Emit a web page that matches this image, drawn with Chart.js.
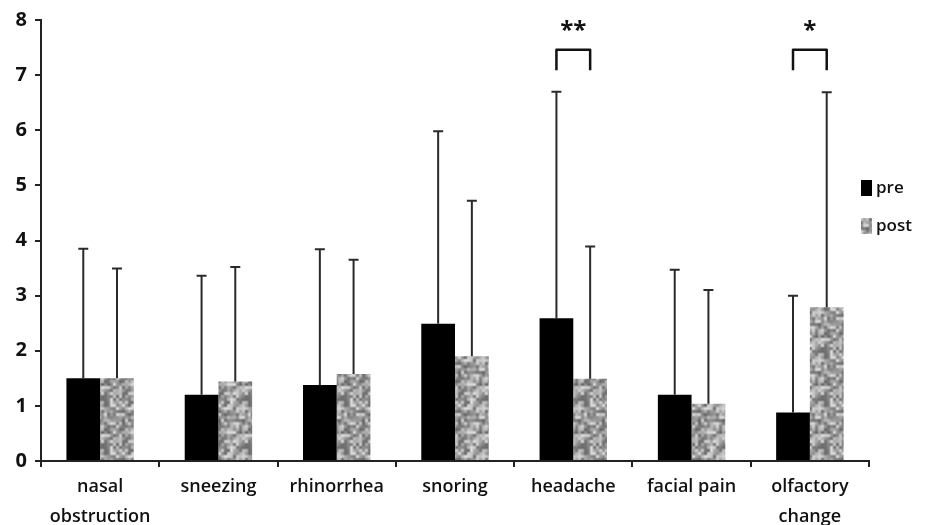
<!DOCTYPE html>
<html lang="en">
<head>
<meta charset="UTF-8">
<title>Symptom scores pre / post</title>
<script src="https://cdn.jsdelivr.net/npm/chart.js"></script>
<style>
  html, body { margin: 0; padding: 0; background: #fff; }
  #chart { display: block; }
</style>
</head>
<body>
<canvas id="chart" width="933" height="525"></canvas>
<script>
// categories (multi-line labels as arrays)
const categories = [['nasal', 'obstruction'], 'sneezing', 'rhinorrhea', 'snoring', 'headache', 'facial pain', ['olfactory', 'change']];

// mean scores
const preMean  = [1.50, 1.20, 1.38, 2.49, 2.59, 1.20, 0.88];
const postMean = [1.50, 1.44, 1.58, 1.90, 1.49, 1.04, 2.79];

// standard deviations (upper whisker only)
const preSD  = [2.35, 2.16, 2.46, 3.49, 4.11, 2.27, 2.12];
const postSD = [1.99, 2.08, 2.07, 2.82, 2.40, 2.06, 3.90];

const yTicks = [0, 1, 2, 3, 4, 5, 6, 7, 8];

// significance marks: category index -> stars
const sigIndex = [4, 6];
const sigLabel = ['**', '*'];

const FONT = '"Open Sans", "DejaVu Sans", sans-serif';

// grey mottled fill for "post" bars (fixed hash, smoothed -> blotchy texture)
function makePattern() {
  const n = 48, cell = 3, m = n / cell;
  const hash = (i, j) => {
    let h = ((i % m) * 374761393 + (j % m) * 668265263) | 0;
    h = (h ^ (h >>> 13)) * 1274126177;
    return ((h ^ (h >>> 16)) >>> 0) / 4294967295;
  };
  const smooth = t => t * t * (3 - 2 * t);
  const c = document.createElement('canvas');
  c.width = n; c.height = n;
  const g = c.getContext('2d');
  const img = g.createImageData(n, n);
  for (let y = 0; y < n; y++) {
    for (let x = 0; x < n; x++) {
      const gx = x / cell, gy = y / cell;
      const i = Math.floor(gx), j = Math.floor(gy);
      const fx = smooth(gx - i), fy = smooth(gy - j);
      const a = hash(i, j), b = hash(i + 1, j), cc = hash(i, j + 1), d = hash(i + 1, j + 1);
      const nv = (a * (1 - fx) + b * fx) * (1 - fy) + (cc * (1 - fx) + d * fx) * fy;
      let v = 100 + 125 * nv;
      v = Math.max(100, Math.min(222, v));
      const k = (y * n + x) * 4;
      img.data[k] = v; img.data[k + 1] = v; img.data[k + 2] = v; img.data[k + 3] = 255;
    }
  }
  g.putImageData(img, 0, 0);
  return g.createPattern(c, 'repeat');
}

const ctx = document.getElementById('chart').getContext('2d');
const postFill = makePattern();

// draws error bars, significance brackets and the legend
const extras = {
  id: 'extras',
  afterDatasetsDraw(chart) {
    const c = chart.ctx;
    const yS = chart.scales.y;
    const sds = [preSD, postSD];
    c.save();
    c.strokeStyle = '#2a2a2a';
    c.lineWidth = 2;
    sds.forEach((sd, d) => {
      const meta = chart.getDatasetMeta(d);
      meta.data.forEach((bar, i) => {
        const v = chart.data.datasets[d].data[i];
        const top = yS.getPixelForValue(v + sd[i]);
        c.beginPath();
        c.moveTo(bar.x, bar.y);
        c.lineTo(bar.x, top);
        c.moveTo(bar.x - 5, top);
        c.lineTo(bar.x + 5, top);
        c.stroke();
      });
    });

    // brackets
    c.lineWidth = 2.5;
    c.strokeStyle = '#111';
    c.fillStyle = '#111';
    c.lineJoin = 'round';
    sigIndex.forEach((idx, k) => {
      const x1 = chart.getDatasetMeta(0).data[idx].x;
      const x2 = chart.getDatasetMeta(1).data[idx].x;
      const yb = yS.getPixelForValue(7.09);
      const yt = yS.getPixelForValue(7.46);
      c.beginPath();
      c.moveTo(x1, yb);
      c.lineTo(x1, yt);
      c.lineTo(x2, yt);
      c.lineTo(x2, yb);
      c.stroke();
      c.font = 'bold 24px ' + FONT;
      c.textAlign = 'center';
      c.textBaseline = 'middle';
      c.fillText(sigLabel[k], (x1 + x2) / 2, yS.getPixelForValue(7.80));
    });

    // legend
    const ds = chart.data.datasets;
    const lx = chart.chartArea.right - 8;
    const ly = [188, 226];
    c.font = '600 17px ' + FONT;
    c.textAlign = 'left';
    c.textBaseline = 'middle';
    ds.forEach((d, i) => {
      c.fillStyle = d.backgroundColor;
      c.fillRect(lx, ly[i] - 8, 11, 16);
      c.fillStyle = '#111';
      c.fillText(d.label, lx + 15, ly[i]);
    });
    c.restore();
  }
};

new Chart(ctx, {
  type: 'bar',
  data: {
    labels: categories,
    datasets: [
      { label: 'pre', data: preMean, backgroundColor: '#000' },
      { label: 'post', data: postMean, backgroundColor: postFill }
    ]
  },
  options: {
    responsive: false,
    animation: false,
    datasets: { bar: { barPercentage: 1, categoryPercentage: 0.57 } },
    layout: { padding: { top: 20, right: 64, left: 0, bottom: 0 } },
    plugins: { legend: { display: false }, tooltip: { enabled: false } },
    scales: {
      x: {
        grid: { offset: true, drawOnChartArea: false, tickLength: 6, color: '#222', lineWidth: 2 },
        border: { color: '#222', width: 2 },
        ticks: { color: '#111', padding: 5, font: { family: FONT, size: 18, weight: '600', lineHeight: 1.65 } },
        afterFit(s) { s.height = 64; }
      },
      y: {
        min: yTicks[0],
        max: yTicks[yTicks.length - 1],
        afterBuildTicks(s) { s.ticks = yTicks.map(v => ({ value: v })); },
        grid: { drawOnChartArea: false, tickLength: 6, color: '#222', lineWidth: 2 },
        border: { color: '#222', width: 2 },
        ticks: { color: '#111', padding: 8, font: { family: FONT, size: 20, weight: 'bold' } },
        afterFit(s) { s.width = 41; }
      }
    }
  },
  plugins: [extras]
});
</script>
</body>
</html>
